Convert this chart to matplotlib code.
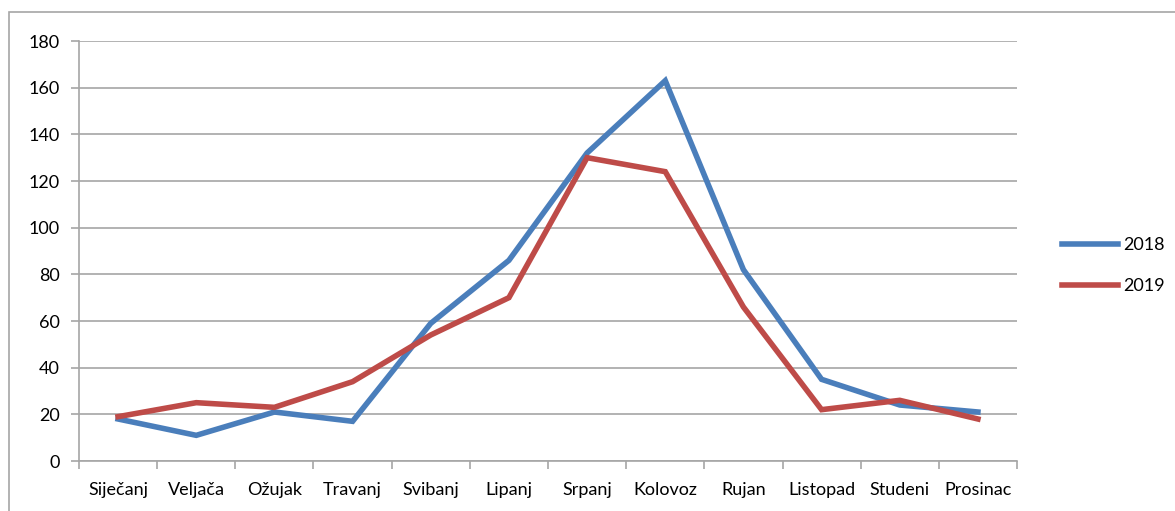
import numpy as np
import matplotlib
matplotlib.use("Agg")
import matplotlib.pyplot as plt
import matplotlib.patches as mpatches

months = ["Siječanj", "Veljača", "Ožujak", "Travanj", "Svibanj", "Lipanj",
          "Srpanj", "Kolovoz", "Rujan", "Listopad", "Studeni", "Prosinac"]
y2018 = [18, 11, 21, 17, 59, 86, 132, 163, 82, 35, 24, 21]
y2019 = [19, 25, 23, 34, 54, 70, 130, 124, 66, 22, 26, 18]
yticks = list(range(0, 181, 20))

plt.rcParams["font.family"] = ["Lato", "DejaVu Sans"]
grid_c = "#a6a6a6"

fig = plt.figure(figsize=(11.75, 5.11), dpi=100)
ax = fig.add_axes([79 / 1175, 50 / 511, 938 / 1175, 420 / 511])

x = np.arange(len(months))
ax.plot(x, y2018, color="#4a7ebb", linewidth=4, label="2018", solid_joinstyle="miter")
ax.plot(x, y2019, color="#be4b48", linewidth=4, label="2019", solid_joinstyle="miter")

ax.set_xlim(-0.5, len(months) - 0.5)
ax.set_ylim(0, 180)
ax.set_yticks(yticks)
ax.yaxis.grid(True, color=grid_c, linewidth=1.2)
ax.set_axisbelow(True)
ax.set_xticks(x)
ax.set_xticklabels(months)
ax.set_xticks(np.arange(-0.5, len(months)), minor=True)
ax.tick_params(axis="x", which="major", length=0, pad=15, labelsize=13)
ax.tick_params(axis="x", which="minor", length=6, color=grid_c, width=1.2)
ax.tick_params(axis="y", length=6, color=grid_c, width=1.2, pad=8, labelsize=13)
for s in ("top", "right"):
    ax.spines[s].set_visible(False)
for s in ("left", "bottom"):
    ax.spines[s].set_color(grid_c)
    ax.spines[s].set_linewidth(1.2)

ax.legend(loc="center left", bbox_to_anchor=(1.038, 0.465), frameon=False,
          fontsize=13, handlelength=3.1, handletextpad=0.3, labelspacing=1.38,
          borderpad=0)

# outer chart border
fig.patches.append(mpatches.Rectangle((9 / 1175, -0.1), 1.2, (511 - 12) / 511 + 0.1,
                                      transform=fig.transFigure, fill=False,
                                      edgecolor=grid_c, linewidth=1.2))

fig.savefig("out.png", dpi=100)
